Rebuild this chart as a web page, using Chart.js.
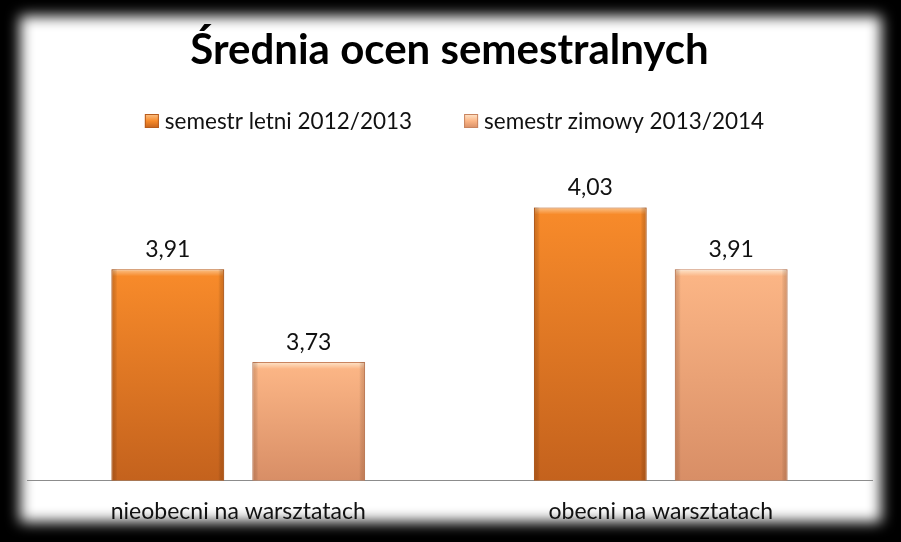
<!DOCTYPE html>
<html>
<head>
<meta charset="utf-8">
<script src="https://cdn.jsdelivr.net/npm/chart.js@4/dist/chart.umd.min.js"></script>
<style>
  html, body { margin: 0; padding: 0; background: #000; width: 901px; height: 542px; overflow: hidden; }
  #panel { position: absolute; left: 20px; top: 16px; width: 861px; height: 506px; background: #fff; filter: blur(7px); }
  #wrap { position: absolute; left: 0; top: 0; width: 901px; height: 542px; }
</style>
</head>
<body>
<div id="panel"></div>
<div id="wrap"><canvas id="c" width="901" height="542"></canvas></div>
<script>
const titleText = 'Średnia ocen semestralnych';
const categories = ['nieobecni na warsztatach', 'obecni na warsztatach'];
const seriesNames = ['semestr letni 2012/2013', 'semestr zimowy 2013/2014'];
const letni = [3.91, 4.03];
const zimowy = [3.73, 3.91];
const yMin = 3.5;
const yMax = 4.1;

const palettes = [
  { hi: '#fbc38a', top: '#f78a2a', bottom: '#c4621d', border: '#b85c1c', edge: 'rgba(150,70,10,0.35)' },
  { hi: '#fee6cc', top: '#fbb585', bottom: '#d88e66', border: '#c9845f', edge: 'rgba(160,90,50,0.30)' }
];

function barGradient(pi) {
  return function (ctx) {
    const chart = ctx.chart;
    const area = chart.chartArea;
    const p = palettes[pi];
    if (!area || ctx.type !== 'data') return p.top;
    const ys = chart.scales.y;
    const yTop = ys.getPixelForValue(ctx.raw);
    const yBot = ys.getPixelForValue(yMin);
    const g = chart.ctx.createLinearGradient(0, yTop, 0, yBot);
    const h = yBot - yTop;
    g.addColorStop(0, p.hi);
    g.addColorStop(Math.min(0.1, 7 / h), p.top);
    g.addColorStop(1, p.bottom);
    return g;
  };
}

// soft bevel on bar sides, using the bar elements laid out by Chart.js
const bevel = {
  id: 'bevel',
  afterDatasetsDraw(chart) {
    const c = chart.ctx;
    const bottom = chart.chartArea.bottom;
    c.save();
    chart.data.datasets.forEach((ds, di) => {
      const meta = chart.getDatasetMeta(di);
      const p = palettes[di];
      meta.data.forEach((el) => {
        const left = el.x - el.width / 2, right = el.x + el.width / 2;
        const h = Math.min(el.base, bottom) - el.y;
        const gl = c.createLinearGradient(left, 0, left + 6, 0);
        gl.addColorStop(0, p.edge); gl.addColorStop(1, 'rgba(0,0,0,0)');
        c.fillStyle = gl; c.fillRect(left, el.y, 6, h);
        const gr = c.createLinearGradient(right - 6, 0, right, 0);
        gr.addColorStop(0, 'rgba(0,0,0,0)'); gr.addColorStop(1, p.edge);
        c.fillStyle = gr; c.fillRect(right - 6, el.y, 6, h);
      });
    });
    c.restore();
  }
};

const valueLabels = {
  id: 'valueLabels',
  afterDatasetsDraw(chart) {
    const c = chart.ctx;
    c.save();
    c.font = '23px Lato';
    c.fillStyle = '#111';
    c.textAlign = 'center';
    c.textBaseline = 'alphabetic';
    chart.data.datasets.forEach((ds, di) => {
      const meta = chart.getDatasetMeta(di);
      meta.data.forEach((el, i) => {
        const txt = ds.data[i].toFixed(2).replace('.', ',');
        c.fillText(txt, el.x, el.y - 12);
      });
    });
    c.restore();
  }
};

const customLegend = {
  id: 'customLegend',
  afterDraw(chart) {
    const c = chart.ctx;
    c.save();
    c.font = '22.5px Lato';
    c.textBaseline = 'alphabetic';
    c.textAlign = 'left';
    const box = 14, gapText = 6, gapItem = 52;
    const widths = chart.data.datasets.map(ds => c.measureText(ds.label).width);
    const total = widths.reduce((a, w) => a + box + gapText + w, 0) + gapItem * (widths.length - 1);
    let x = chart.width / 2 + 4 - total / 2;
    const baseY = 129;
    chart.data.datasets.forEach((ds, i) => {
      const p = palettes[i];
      const g = c.createLinearGradient(0, baseY - 15, 0, baseY - 1);
      g.addColorStop(0, p.hi); g.addColorStop(0.5, p.top); g.addColorStop(1, p.bottom);
      c.fillStyle = g;
      c.fillRect(x, baseY - 15, box, box);
      c.strokeStyle = p.border; c.lineWidth = 1;
      c.strokeRect(x + 0.5, baseY - 14.5, box - 1, box - 1);
      c.fillStyle = '#111';
      c.fillText(ds.label, x + box + gapText, baseY);
      x += box + gapText + widths[i] + gapItem;
    });
    c.restore();
  }
};

new Chart(document.getElementById('c'), {
  type: 'bar',
  data: {
    labels: categories,
    datasets: [
      { label: seriesNames[0], data: letni, backgroundColor: barGradient(0), borderColor: palettes[0].border, borderWidth: 1 },
      { label: seriesNames[1], data: zimowy, backgroundColor: barGradient(1), borderColor: palettes[1].border, borderWidth: 1 }
    ]
  },
  options: {
    responsive: false,
    animation: false,
    devicePixelRatio: 1,
    categoryPercentage: 0.667,
    barPercentage: 0.80,
    layout: { padding: { left: 27, right: 29, top: 22, bottom: 0 } },
    plugins: {
      title: {
        display: true,
        text: titleText,
        color: '#000',
        font: { family: 'Lato', size: 42, weight: 'bold' },
        padding: { top: 3, bottom: 96 }
      },
      legend: { display: false },
      tooltip: { enabled: false }
    },
    scales: {
      x: {
        grid: { display: false, drawTicks: false },
        border: { display: true, color: '#8c8c8c', width: 1 },
        ticks: { color: '#111', font: { family: 'Lato', size: 23 }, padding: 17 }
      },
      y: {
        display: false,
        min: yMin,
        max: yMax
      }
    }
  },
  plugins: [bevel, valueLabels, customLegend]
});
</script>
</body>
</html>
